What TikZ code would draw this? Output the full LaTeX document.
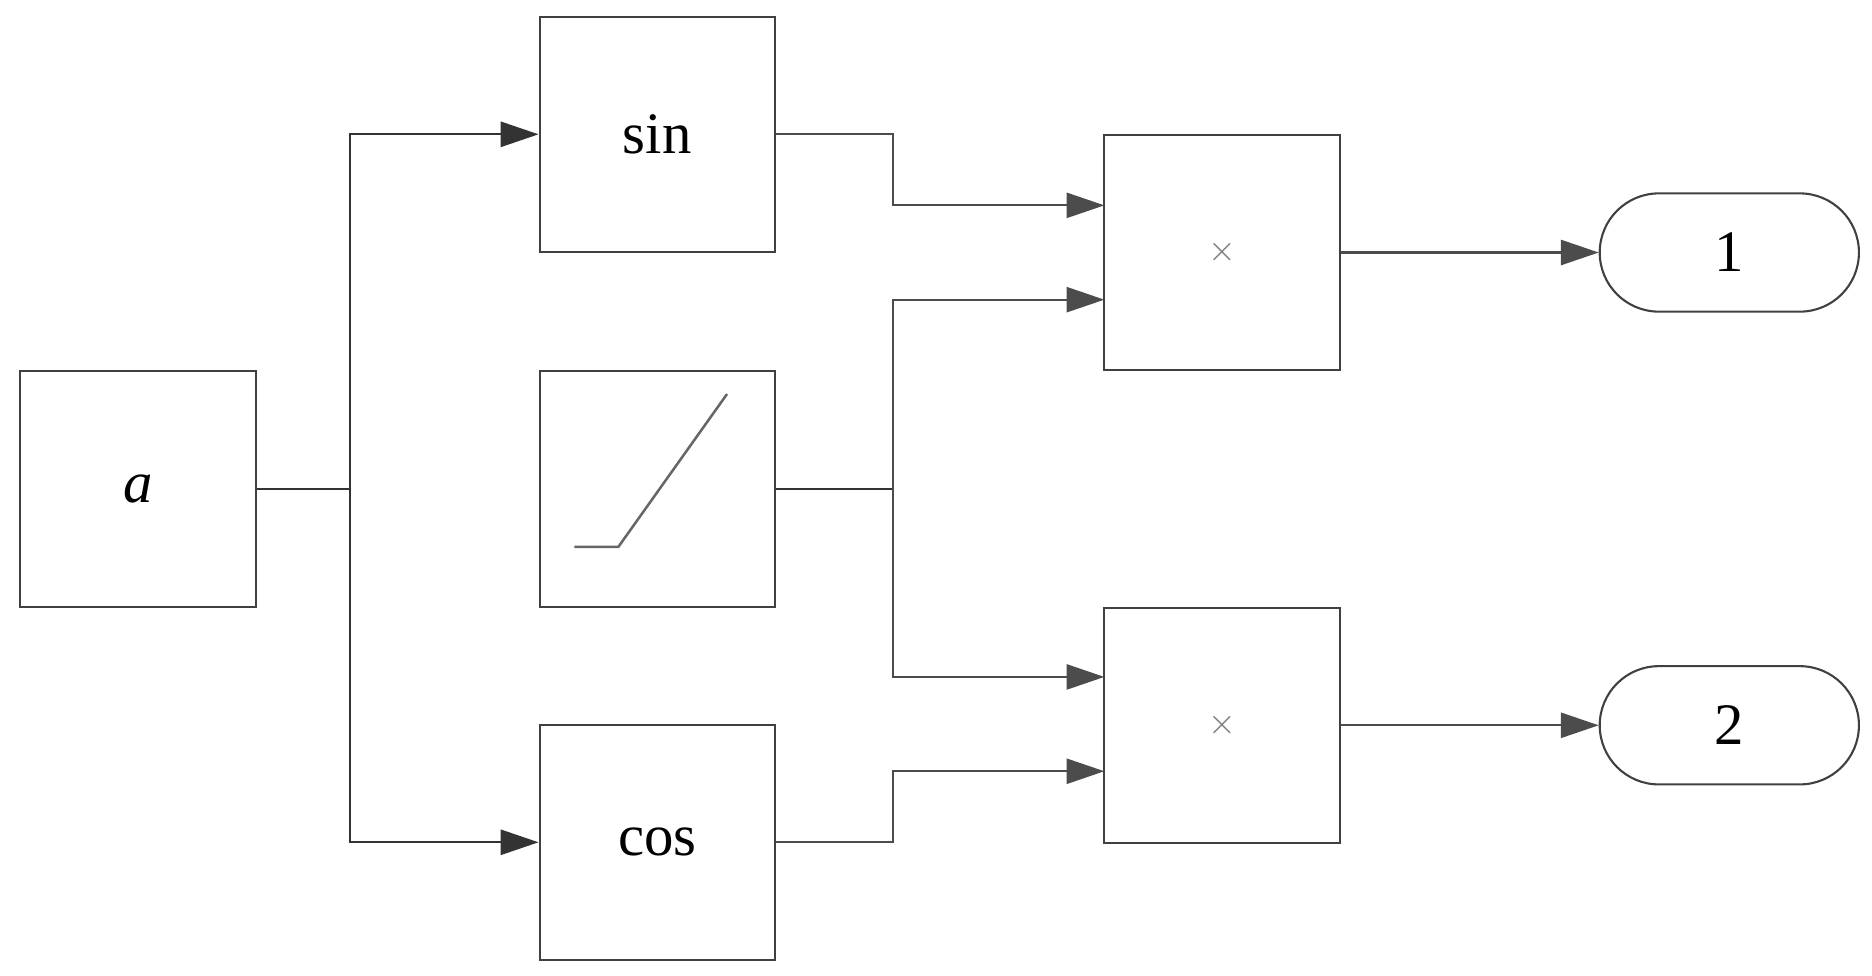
\documentclass[tikz,border=0pt]{standalone}
\usepackage{fontspec}
\setmainfont{Liberation Serif}
\usetikzlibrary{arrows.meta,shapes.misc}
\begin{document}
\begin{tikzpicture}[x=0.01cm,y=-0.01cm,
  blk/.style={draw=black!75,line width=0.5pt,minimum width=1.97cm,minimum height=1.97cm,inner sep=0pt,font=\fontsize{14}{16}\selectfont},
  outp/.style={draw=black!75,line width=0.5pt,rounded rectangle,minimum width=2.17cm,minimum height=0.99cm,inner sep=0pt,font=\fontsize{14}{16}\selectfont},
  con/.style={draw=black!80,line width=0.5pt},
  arr/.style={con,-{Triangle[length=9pt,width=6pt]}},
  garr/.style={draw=black!70,line width=0.5pt,-{Triangle[length=9pt,width=6pt]}}]
\useasboundingbox (0,0) rectangle (1568,817.5);
\node[blk] (a) at (115.5,409.5) {\itshape a};
\node[blk] (sin) at (550.5,112.5) {sin};
\node[blk] (ramp) at (550.5,409.5) {};
\node[blk] (cos) at (550.5,705.5) {cos};
\node[blk] (m1) at (1023.5,211.5) {\textcolor{black!50}{\fontsize{8}{9}\selectfont$\times$}};
\node[blk] (m2) at (1023.5,607.5) {\textcolor{black!50}{\fontsize{8}{9}\selectfont$\times$}};
\node[outp] (o1) at (1448.5,211.5) {1};
\node[outp] (o2) at (1448.5,607.5) {2};
\draw[black!60,line width=0.6pt] (481,458) -- (518,458) -- (609,330);
\coordinate (s) at (293,409.5);
\coordinate (r) at (748,409.5);
\coordinate (m1a) at (925,172);
\coordinate (m1b) at (925,251);
\coordinate (m2a) at (925,567);
\coordinate (m2b) at (925,646);
\draw[con] (a.east) -- (s);
\draw[arr] (s) |- (sin.west);
\draw[arr] (s) |- (cos.west);
\draw[con] (ramp.east) -- (r);
\draw[garr] (sin.east) -| (748,172) -- (m1a);
\draw[garr] (r) |- (m1b);
\draw[garr] (r) |- (m2a);
\draw[garr] (cos.east) -| (748,646) -- (m2b);
\draw[garr] (m1.east) -- (o1.west);
\draw[garr] (m2.east) -- (o2.west);
\end{tikzpicture}
\end{document}
